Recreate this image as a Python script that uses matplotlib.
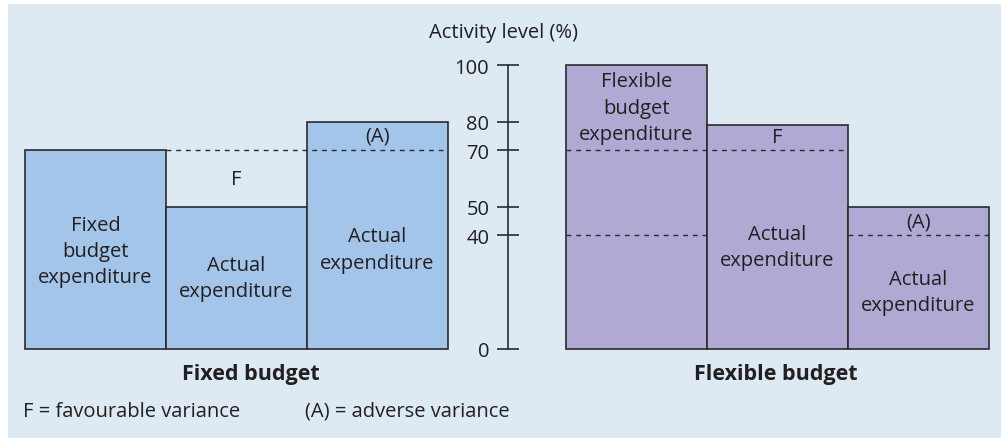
import matplotlib.pyplot as plt
from matplotlib.patches import Rectangle

plt.rcParams['font.family'] = ['Open Sans', 'DejaVu Sans']

# data
fixed_heights = [70, 50, 80]
flex_heights = [100, 79, 50]
fixed_labels = ["Fixed\nbudget\nexpenditure", "Actual\nexpenditure", "Actual\nexpenditure"]
fixed_label_y = [34.5, 25, 35]
flex_labels = ["Flexible\nbudget\nexpenditure", "Actual\nexpenditure", "Actual\nexpenditure"]
flex_label_y = [85, 36, 20]
axis_ticks = [0, 40, 50, 70, 80, 100]

# layout (pixel x positions)
fixed_x = [25, 166, 307]
flex_x = [566, 707, 848]
bar_w = 141
axis_x = 508

txt = "#231f20"
edge = "#2b2b2b"

fig = plt.figure(figsize=(10.01, 4.39), dpi=100)
fig.patches.append(Rectangle((8 / 1001, 0), 1, 434 / 439, transform=fig.transFigure,
                             facecolor="#ddeaf3", edgecolor="none", zorder=-10))
ax = fig.add_axes([0, 0, 1, 1])
ax.set_facecolor("none")
ax.set_xlim(0, 1001)
ax.set_ylim(-31.34, 123.24)

ax.bar(fixed_x, fixed_heights, width=bar_w, align="edge", color="#a3c5e9",
       edgecolor=edge, linewidth=1.2, zorder=2)
ax.bar(flex_x, flex_heights, width=bar_w, align="edge", color="#b0a9d4",
       edgecolor=edge, linewidth=1.2, zorder=2)

dash = (0, (3.5, 3.5))
ax.hlines(fixed_heights[0], fixed_x[1], fixed_x[2] + bar_w, colors=edge,
          linestyles=[dash], linewidth=1, zorder=3)
ax.hlines(70, flex_x[0], flex_x[1] + bar_w, colors=edge, linestyles=[dash], linewidth=1, zorder=3)
ax.hlines(40, flex_x[0], flex_x[0] + bar_w, colors=edge, linestyles=[dash], linewidth=1, zorder=3)
ax.hlines(40, flex_x[2], flex_x[2] + bar_w, colors=edge, linestyles=[dash], linewidth=1, zorder=3)

fs = 14.5
ls = 1.42
for x, lab, y in zip(fixed_x, fixed_labels, fixed_label_y):
    ax.text(x + bar_w / 2, y, lab, ha="center", va="center", fontsize=fs, color=txt,
            linespacing=ls, zorder=4)
for x, lab, y in zip(flex_x, flex_labels, flex_label_y):
    ax.text(x + bar_w / 2, y, lab, ha="center", va="center", fontsize=fs, color=txt,
            linespacing=ls, zorder=4)

ax.text(fixed_x[1] + bar_w / 2, (fixed_heights[0] + fixed_heights[1]) / 2, "F",
        ha="center", va="center", fontsize=fs, color=txt, zorder=4)
ax.text(fixed_x[2] + bar_w / 2, (fixed_heights[2] + fixed_heights[0]) / 2, "(A)",
        ha="center", va="center", fontsize=fs, color=txt, zorder=4)
ax.text(flex_x[1] + bar_w / 2, 74.5, "F", ha="center", va="center", fontsize=fs, color=txt, zorder=4)
ax.text(flex_x[2] + bar_w / 2, 45, "(A)", ha="center", va="center", fontsize=fs, color=txt, zorder=4)

# centre axis
for s in ["top", "right", "bottom"]:
    ax.spines[s].set_visible(False)
ax.spines["left"].set_position(("data", axis_x))
ax.spines["left"].set_bounds(0, 100)
ax.spines["left"].set_color(edge)
ax.spines["left"].set_linewidth(1.2)
ax.set_xticks([])
ax.set_yticks(axis_ticks)
ax.tick_params(axis="y", direction="inout", length=16, width=1.2, color=edge,
               labelsize=fs, labelcolor=txt, pad=5.5)

ax.text(429, 111.6, "Activity level (%)", ha="left", va="center", fontsize=fs, color=txt)
ax.text(251, -8.8, "Fixed budget", ha="center", va="center", fontsize=15.5,
        fontweight="bold", color=txt)
ax.text(776, -8.8, "Flexible budget", ha="center", va="center", fontsize=15.5,
        fontweight="bold", color=txt)
ax.text(23, -21.8, "F = favourable variance", ha="left", va="center", fontsize=fs, color=txt)
ax.text(305, -21.8, "(A) = adverse variance", ha="left", va="center", fontsize=fs, color=txt)

fig.savefig("out.png", dpi=100)
